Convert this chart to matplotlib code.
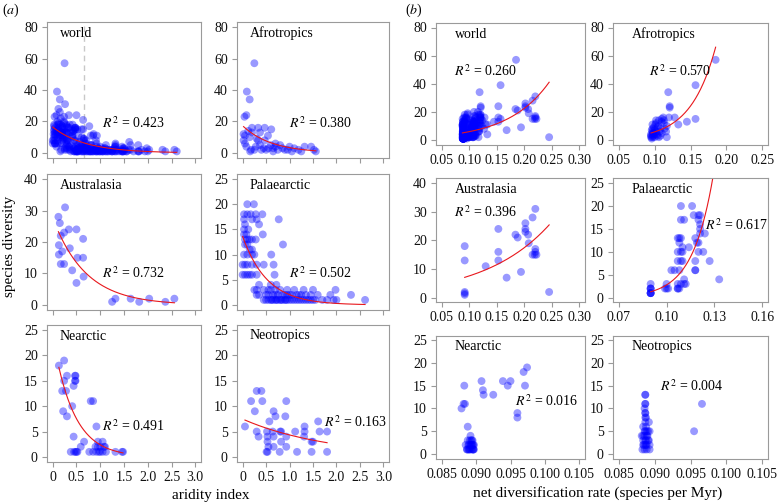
import matplotlib

matplotlib.use("Agg")
import matplotlib.pyplot as plt
import numpy as np

plt.rcParams["font.family"] = ["Liberation Serif", "DejaVu Serif"]
plt.rcParams["mathtext.fontset"] = "stix"

W, H = 779, 504

# ---- (a) aridity index vs species diversity, one pair of lists per region ----
afro_a_x = [0.25, 0.09, 0.15, 0.04, 0.08, 0.20, 0.33, 0.47, 0.61, 0.02, 0.05, 0.02, 0.05, 0.08, 0.18, 0.16,
            0.20, 0.37, 0.54, 0.30, 0.33, 0.47, 0.12, 0.15, 0.37, 0.45, 0.55, 0.65, 0.70, 0.75, 0.85, 0.90,
            0.80, 0.60, 0.50, 0.40, 0.28, 0.25, 0.96, 1.05, 1.10, 1.19, 1.25, 1.32, 1.46, 1.52, 1.56, 0.70,
            1.00, 0.65]
afro_a_y = [57, 39, 34, 23, 24, 16, 16, 16, 15, 12, 11, 8, 6, 4, 2, 1,
            13, 13, 11, 9, 8, 8, 14, 10, 5, 3, 3, 3, 4, 2, 3, 2,
            5, 5, 2, 2, 4, 2, 2, 1, 3, 2, 1, 4, 4, 2, 1, 6,
            4, 1]

austr_a_x = [0.12, 0.15, 0.26, 0.13, 0.17, 0.24, 0.20, 0.13, 0.17, 0.24, 0.34, 0.36, 0.41, 0.50, 0.52, 0.50,
             0.64, 0.64, 0.65, 1.25, 1.32, 1.64, 1.82, 2.03, 2.37, 2.56]
austr_a_y = [28, 26, 31, 19, 22, 23, 17, 16, 13, 13, 24, 18, 11, 24, 15, 7,
             21, 15, 9, 1, 2, 2, 1, 2, 1, 2]

palae_a_x = [0.10, 0.24,
             0.03, 0.10, 0.17, 0.28, 0.42,
             0.03, 0.20, 0.30, 0.77,
             0.05, 0.35,
             0.03, 0.12,
             0.03, 0.43, 0.08,
             0.05, 0.10, 0.15, 0.20, 0.28,
             0.05, 0.10, 0.86,
             0.15, 0.20,
             0.03, 0.10, 0.20, 0.25, 0.61,
             0.00, 0.05, 0.10, 0.20, 0.30, 0.45, 0.66,
             0.00, 0.05, 0.10, 0.15, 0.20, 0.30, 0.68,
             0.35, 0.72, 0.60,
             0.25, 0.30, 0.45, 0.60, 0.70, 0.80, 0.95, 1.10, 1.30, 1.50, 1.98, 0.55,
             0.30, 0.35, 0.50, 0.55, 0.65, 0.75, 0.85, 0.90, 1.00, 1.05, 1.15, 1.20, 1.25, 1.35, 1.45, 1.60,
             1.87, 2.31, 0.70, 0.95,
             0.45, 0.50, 0.55, 0.60, 0.65, 0.70, 0.75, 0.80, 0.85, 0.90, 0.95, 1.00, 1.05, 1.10, 1.15, 1.20,
             1.25, 1.30, 1.35, 1.40, 1.45, 1.50, 1.55, 1.70, 1.80, 1.94, 2.00, 2.61, 0.62, 0.72, 0.82, 0.92]
palae_a_y = [20, 20,
             18, 18, 18, 18, 18,
             17, 17, 17, 17,
             16, 16,
             15, 15,
             14, 14, 14,
             13, 13, 13, 13, 13,
             12, 12, 12,
             11, 11,
             10, 10, 10, 10, 10,
             8, 8, 8, 8, 8, 8, 8,
             6, 6, 6, 6, 6, 6, 6,
             4, 4, 4,
             3, 3, 3, 3, 3, 3, 3, 3, 3, 3, 3, 3,
             2, 2, 2, 2, 2, 2, 2, 2, 2, 2, 2, 2, 2, 2, 2, 2,
             2, 2, 2, 2,
             1, 1, 1, 1, 1, 1, 1, 1, 1, 1, 1, 1, 1, 1, 1, 1,
             1, 1, 1, 1, 1, 1, 1, 1, 1, 1, 1, 1, 1, 1, 1, 1]

nearc_a_x = [0.13, 0.24, 0.24, 0.20, 0.30, 0.28, 0.22, 0.30, 0.47, 0.48, 0.47, 0.48, 0.44, 0.41, 0.44,
             0.38, 0.45, 0.48, 0.50, 0.52, 0.59, 0.66, 0.80, 0.85, 0.77, 0.85, 0.92,
             0.90, 0.95, 1.00, 1.08, 0.92, 0.97, 1.00, 1.05, 1.12, 1.05, 1.10, 0.95, 1.32, 1.46, 1.48]
nearc_a_y = [18, 19, 15, 13, 16, 13, 9, 8, 16, 16, 15, 15, 14, 10, 4,
             1, 1, 1, 1, 1, 2, 3, 11, 11, 1, 1, 6,
             2, 2, 2, 2, 1, 1, 1, 1, 1, 3, 2, 3, 1, 1, 1]

neotr_a_x = [0.05, 0.18, 0.26, 0.30, 0.40, 0.42, 0.30, 0.34, 0.51, 0.53, 0.57, 0.53, 0.53, 0.55, 0.52,
             0.66, 0.70, 0.64, 0.66, 0.66, 0.79, 0.80, 0.82, 0.82, 0.91, 0.93, 0.93, 0.93, 1.12, 1.16,
             1.31, 1.32, 1.32, 1.47, 1.50, 1.47, 1.61, 1.64, 1.80, 1.80]
neotr_a_y = [6, 11, 9, 13, 13, 11, 5, 4, 1, 1, 7, 4, 3, 2, 5,
             9, 8, 5, 4, 2, 1, 5, 5, 3, 8, 11, 4, 2, 5, 1,
             4, 6, 5, 3, 3, 1, 7, 5, 5, 1]

# ---- (b) net diversification rate vs species diversity ----
afro_b_x = [0.185, 0.157, 0.119, 0.121, 0.121, 0.128, 0.120, 0.157, 0.145, 0.133, 0.113, 0.113, 0.117,
            0.102, 0.102, 0.106, 0.097, 0.097, 0.097, 0.097, 0.095, 0.095, 0.116, 0.117, 0.100, 0.102,
            0.108, 0.110, 0.104, 0.099, 0.096, 0.098, 0.100, 0.105, 0.110, 0.112, 0.107, 0.103, 0.096,
            0.098, 0.100, 0.114, 0.108, 0.106, 0.099, 0.101, 0.095, 0.097, 0.110, 0.104]
afro_b_y = [57, 39, 34, 24, 23, 16, 16, 15, 13, 11, 14, 12, 10,
            14, 12, 14, 8, 6, 11, 4, 2, 3, 6, 2, 4, 6,
            8, 5, 3, 9, 7, 5, 2, 10, 13, 16, 6, 4, 1,
            3, 7, 8, 3, 2, 5, 11, 4, 2, 15, 9]

austr_b_x = [0.092, 0.092, 0.092, 0.092, 0.092, 0.130, 0.153, 0.153, 0.153, 0.168, 0.184, 0.188, 0.194,
             0.202, 0.202, 0.202, 0.207, 0.208, 0.215, 0.220, 0.220, 0.219, 0.215, 0.222, 0.220, 0.245]
austr_b_y = [18, 13, 1, 2, 1.5, 11, 24, 16, 13, 7, 22, 21, 9,
             26, 24, 23, 22, 19, 28, 31, 17, 15, 15, 15, 16, 2]

palae_b_x = [0.109, 0.116,
             0.117, 0.120, 0.121,
             0.109, 0.111, 0.120,
             0.121, 0.121,
             0.121, 0.124,
             0.107, 0.108, 0.109, 0.118,
             0.108, 0.119, 0.120,
             0.110, 0.114,
             0.107, 0.109, 0.110, 0.120, 0.123,
             0.107, 0.109, 0.110, 0.118, 0.127,
             0.103, 0.105, 0.108, 0.118, 0.118,
             0.111, 0.133,
             0.090, 0.100, 0.107, 0.109, 0.111, 0.112,
             0.090, 0.090, 0.090, 0.099, 0.100, 0.101, 0.107, 0.107, 0.108,
             0.090, 0.090, 0.090, 0.090]
palae_b_y = [20, 20,
             18, 18, 18,
             17, 17, 17,
             16, 15,
             14, 14,
             13, 13, 13, 13,
             12, 12, 12,
             11, 11,
             10, 10, 10, 10, 10,
             8, 8, 8, 8, 8,
             6, 6, 6, 6, 6,
             4, 4,
             3, 3, 3, 3, 3, 3,
             2, 2, 2, 2, 2, 2, 2, 2, 2,
             1, 1, 1, 1]

nearc_b_x = [0.0883, 0.0879, 0.0882, 0.0884, 0.0888, 0.0885, 0.0887, 0.0889, 0.0891, 0.0892, 0.0893,
             0.0894, 0.0895, 0.0895, 0.0896, 0.0896, 0.0897, 0.0893, 0.0890, 0.0891, 0.0894, 0.0896,
             0.0895, 0.0908, 0.0910, 0.0911, 0.0925, 0.0939, 0.0946, 0.0950, 0.0960, 0.0960, 0.0969,
             0.0971, 0.0974, 0.0887, 0.0889, 0.0892, 0.0893, 0.0897, 0.0888, 0.0890]
nearc_b_y = [15, 10, 11, 11, 6, 2, 1, 2, 3, 4, 3,
             2, 1, 2, 1, 2, 1, 1, 2, 1, 3, 1,
             3, 16, 14, 13, 13, 16, 15, 16, 9, 8, 18,
             15, 19, 1, 1, 2, 2, 2, 3, 1]

neotr_b_x = [0.0887, 0.0887, 0.0887, 0.0887, 0.0886, 0.0887, 0.0887, 0.0888, 0.0887, 0.0892, 0.0884,
             0.0887, 0.0889, 0.0893, 0.0882, 0.0884, 0.0889, 0.0892, 0.0884, 0.0888, 0.0891, 0.0893,
             0.0884, 0.0888, 0.0883, 0.0889, 0.0893, 0.0886, 0.0886, 0.0888, 0.0887, 0.0885, 0.0890,
             0.0887, 0.0886, 0.0889, 0.0891, 0.0887, 0.0955, 0.0966]
neotr_b_y = [13, 13, 11, 11, 10, 9, 9, 8, 7, 7, 6,
             5, 5, 5, 4, 4, 4, 3, 3, 3, 3, 2,
             2, 2, 1, 1, 1, 1, 5, 6, 8, 2, 4,
             3, 4, 2, 5, 2, 5, 11]

# world panels pool all regions
world_a_x = afro_a_x + austr_a_x + palae_a_x + nearc_a_x + neotr_a_x
world_a_y = afro_a_y + austr_a_y + palae_a_y + nearc_a_y + neotr_a_y
world_b_x = afro_b_x + austr_b_x + palae_b_x + nearc_b_x + neotr_b_x
world_b_y = afro_b_y + austr_b_y + palae_b_y + nearc_b_y + neotr_b_y

# exponential fits, y = exp(a + b*x); None where no line is drawn
fits_a = {"world": (2.80, -1.44), "Afrotropics": (2.85, -1.63), "Australasia": (3.32, -1.44),
          "Palaearctic": (2.61, -1.90), "Nearctic": (3.17, -2.30), "Neotropics": (2.01, -0.544)}
fits_b = {"world": (0.44, 13.37), "Afrotropics": (-1.12, 28.7), "Australasia": (1.194, 8.33),
          "Palaearctic": (-6.67, 77.0), "Nearctic": None, "Neotropics": None}
r2_a = {"world": "0.423", "Afrotropics": "0.380", "Australasia": "0.732",
        "Palaearctic": "0.502", "Nearctic": "0.491", "Neotropics": "0.163"}
r2_b = {"world": "0.260", "Afrotropics": "0.570", "Australasia": "0.396",
        "Palaearctic": "0.617", "Nearctic": "0.016", "Neotropics": "0.004"}
r2_pos_a = {"world": (1.03, 19), "Afrotropics": (0.99, 19), "Australasia": (1.03, 10.1),
            "Palaearctic": (0.99, 6.4), "Nearctic": (1.03, 6.0), "Neotropics": (1.74, 6.8)}
r2_pos_b = {"world": (0.073, 49), "Afrotropics": (0.092, 49), "Australasia": (0.072, 29.8),
            "Palaearctic": (0.124, 15.8), "Nearctic": (0.0956, 11.6), "Neotropics": (0.0908, 14.9)}

ylims = {"world": (0, 80), "Afrotropics": (0, 80), "Australasia": (0, 40),
         "Palaearctic": (0, 25), "Nearctic": (0, 25), "Neotropics": (0, 25)}
yticks = {80: [0, 20, 40, 60, 80], 40: [0, 10, 20, 30, 40], 25: [0, 5, 10, 15, 20, 25]}

a_ticks = [0, 0.5, 1.0, 1.5, 2.0, 2.5, 3.0]
a_ticklabels = ["0", "0.5", "1.0", "1.5", "2.0", "2.5", "3.0"]
b_ticks = {"world": [0.05, 0.10, 0.15, 0.20, 0.25, 0.30],
           "Afrotropics": [0.05, 0.10, 0.15, 0.20, 0.25],
           "Australasia": [0.05, 0.10, 0.15, 0.20, 0.25, 0.30],
           "Palaearctic": [0.07, 0.10, 0.13, 0.16],
           "Nearctic": [0.085, 0.090, 0.095, 0.100, 0.105],
           "Neotropics": [0.085, 0.090, 0.095, 0.100, 0.105]}
b_fmt = {"world": "%.2f", "Afrotropics": "%.2f", "Australasia": "%.2f",
         "Palaearctic": "%.2f", "Nearctic": "%.3f", "Neotropics": "%.3f"}

data_a = {"world": (world_a_x, world_a_y), "Afrotropics": (afro_a_x, afro_a_y),
          "Australasia": (austr_a_x, austr_a_y), "Palaearctic": (palae_a_x, palae_a_y),
          "Nearctic": (nearc_a_x, nearc_a_y), "Neotropics": (neotr_a_x, neotr_a_y)}
data_b = {"world": (world_b_x, world_b_y), "Afrotropics": (afro_b_x, afro_b_y),
          "Australasia": (austr_b_x, austr_b_y), "Palaearctic": (palae_b_x, palae_b_y),
          "Nearctic": (nearc_b_x, nearc_b_y), "Neotropics": (neotr_b_x, neotr_b_y)}

regions = [["world", "Afrotropics"], ["Australasia", "Palaearctic"], ["Nearctic", "Neotropics"]]

# panel boxes in pixels (left, right) / (top, bottom)
A_COLS = [(47, 201), (237, 389)]
A_ROWS = [(22, 158), (174, 310), (325, 462)]
B_COLS = [(436, 585), (613, 768)]
B_ROWS = [(23, 144.5), (178.5, 302.3), (335.5, 458.6)]

BOX = "#9a9a9a"
PT_COLOR = (0.0, 0.0, 1.0, 0.40)
FS = 10

fig = plt.figure(figsize=(W / 100, H / 100), dpi=100)


def add_box(cols, rows, i, j):
    l, r = cols[j]
    t, b = rows[i]
    return fig.add_axes([l / W, 1 - b / H, (r - l) / W, (b - t) / H])


def style(ax):
    for sp in ax.spines.values():
        sp.set_color(BOX)
        sp.set_linewidth(0.8)
    ax.tick_params(direction="out", length=3.6, width=0.8, color=BOX, labelcolor="#111111",
                   labelsize=FS, pad=3)


def draw(ax, name, x, y, fit, r2, r2_pos, dx):
    ax.scatter(x, y, s=32, color=PT_COLOR, edgecolors="none", zorder=2)
    if fit is not None:
        xs = np.linspace(min(x), max(x), 200)
        ax.plot(xs, np.exp(fit[0] + fit[1] * xs), color="#e8171c", lw=0.8, zorder=3)
    ax.annotate(name, xy=(0, 1), xycoords="axes fraction", xytext=(dx, -11),
                textcoords="offset pixels", ha="left", va="center", fontsize=FS)
    ax.text(r2_pos[0], r2_pos[1], r"$R^2$ = " + r2, ha="left", va="center", fontsize=FS, zorder=4)


for i, row in enumerate(regions):
    for j, name in enumerate(row):
        # left block (a)
        ax = add_box(A_COLS, A_ROWS, i, j)
        style(ax)
        x, y = data_a[name]
        if name == "world":
            ax.axvline(0.65, color="#c8c8c8", lw=1.0, ls=(0, (4, 3)), zorder=1)
        draw(ax, name, x, y, fits_a[name], r2_a[name], r2_pos_a[name], 13)
        ax.set_xlim(-0.12, 3.12)
        ax.set_xticks(a_ticks)
        if i == 2:
            ax.set_xticklabels(a_ticklabels)
        else:
            ax.set_xticklabels([])
        lo, hi = ylims[name]
        ax.set_ylim(lo - 0.04 * hi, hi * 1.04)
        ax.set_yticks(yticks[hi])

        # right block (b)
        ax = add_box(B_COLS, B_ROWS, i, j)
        style(ax)
        x, y = data_b[name]
        draw(ax, name, x, y, fits_b[name], r2_b[name], r2_pos_b[name], 19)
        t = b_ticks[name]
        pad = 0.04 * (t[-1] - t[0])
        ax.set_xlim(t[0] - pad, t[-1] + pad)
        ax.set_xticks(t)
        ax.set_xticklabels([b_fmt[name] % v for v in t])
        ax.set_ylim(lo - 0.04 * hi, hi * 1.04)
        ax.set_yticks(yticks[hi])

fig.text(2 / W, 1 - 10 / H, r"($a$)", ha="left", va="center", fontsize=FS)
fig.text(405 / W, 1 - 10 / H, r"($b$)", ha="left", va="center", fontsize=FS)
fig.text(10 / W, 1 - 246 / H, "species diversity", rotation=90, ha="center", va="center", fontsize=11)
fig.text(211 / W, 1 - 495 / H, "aridity index", ha="center", va="center", fontsize=11)
fig.text(598 / W, 1 - 493 / H, "net diversification rate (species per Myr)", ha="center", va="center",
         fontsize=11)

fig.savefig("out.png", dpi=100)
